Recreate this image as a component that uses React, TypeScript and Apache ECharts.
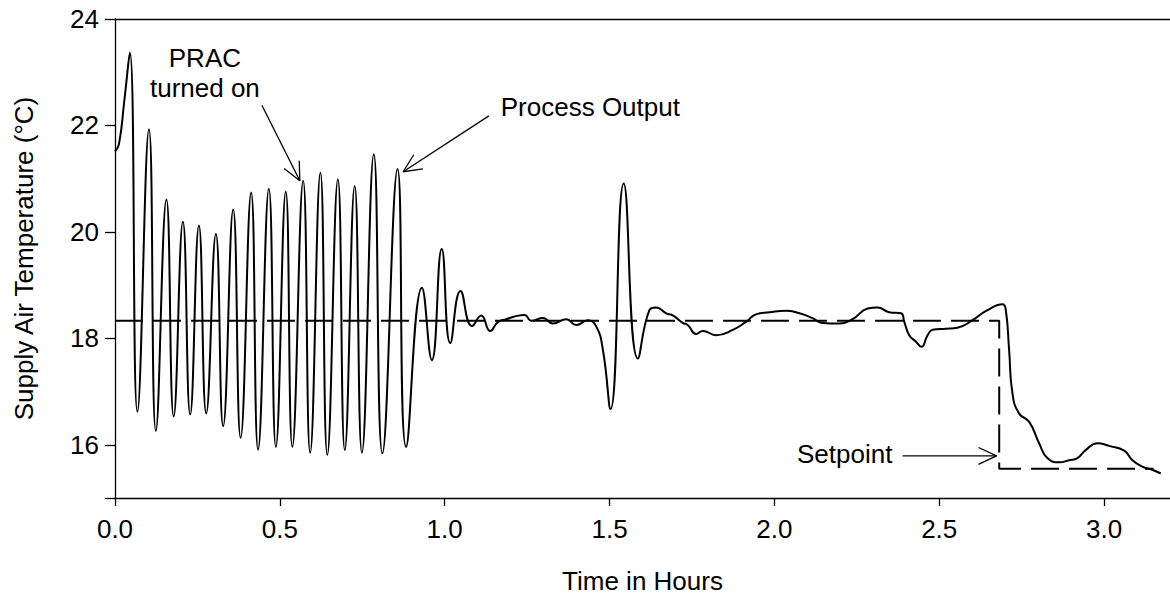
import React, { useEffect, useRef } from "react";
import * as echarts from "echarts";

const FONT = '"Liberation Sans", Arial, Helvetica, sans-serif';
const FS = 26;

// Process output (supply air temperature) readings
const timeHours = [
  0.0, 0.012, 0.028, 0.045, 0.068, 0.103, 0.124, 0.156, 0.178, 0.206, 0.228, 0.2545, 0.2767,
  0.306, 0.328, 0.3585, 0.381, 0.413, 0.434, 0.4667, 0.488, 0.518, 0.538, 0.5707, 0.592, 0.623,
  0.644, 0.676, 0.697, 0.727, 0.749, 0.785, 0.811, 0.857, 0.883, 0.931, 0.961, 0.991, 1.017,
  1.048, 1.083, 1.111, 1.138, 1.162, 1.187, 1.212, 1.242, 1.263, 1.298, 1.328, 1.369, 1.399,
  1.434, 1.46, 1.48, 1.503, 1.543, 1.586, 1.621, 1.641, 1.672, 1.692, 1.722, 1.737, 1.763,
  1.783, 1.823, 1.874, 1.914, 1.944, 1.985, 2.035, 2.076, 2.116, 2.146, 2.197, 2.237, 2.283,
  2.313, 2.348, 2.384, 2.394, 2.409, 2.429, 2.446, 2.465, 2.48, 2.52, 2.555, 2.601, 2.641,
  2.692, 2.702, 2.712, 2.722, 2.742, 2.773, 2.803, 2.828, 2.864, 2.894, 2.919, 2.944, 2.98,
  3.015, 3.061, 3.086, 3.116, 3.146, 3.172,
];
const processOutput = [
  21.51, 21.65, 22.45, 23.37, 16.62, 21.93, 16.26, 20.61, 16.53, 20.19, 16.57, 20.12, 16.59,
  19.96, 16.35, 20.42, 16.13, 20.74, 15.91, 20.81, 15.96, 20.76, 15.96, 20.96, 15.85, 21.11,
  15.81, 20.99, 15.9, 20.86, 15.85, 21.46, 15.84, 21.18, 15.96, 18.95, 17.59, 19.68, 17.91,
  18.89, 18.23, 18.43, 18.14, 18.31, 18.36, 18.41, 18.44, 18.33, 18.38, 18.28, 18.36, 18.25,
  18.34, 18.22, 17.78, 16.67, 20.91, 17.62, 18.53, 18.58, 18.47, 18.43, 18.29, 18.25, 18.08,
  18.14, 18.06, 18.16, 18.31, 18.45, 18.49, 18.52, 18.47, 18.38, 18.29, 18.28, 18.36, 18.56,
  18.58, 18.49, 18.47, 18.31, 18.06, 17.94, 17.84, 18.06, 18.16, 18.18, 18.2, 18.34, 18.51,
  18.64, 18.53, 17.78, 16.97, 16.59, 16.43, 16.03, 15.75, 15.67, 15.71, 15.75, 15.9, 16.03,
  15.98, 15.89, 15.71, 15.59, 15.53, 15.46,
];

// Setpoint step
const setpointTime = [0, 2.682, 2.682, 3.15];
const setpointTemp = [18.33, 18.33, 15.55, 15.55];

// Axis ticks / labels
const xTickValues = [0, 0.5, 1.0, 1.5, 2.0, 2.5, 3.0];
const yTickValues = [15, 16, 18, 20, 22, 24];
const yLabelValues = [16, 18, 20, 22, 24];

// Annotations (data coordinates)
const annotationTexts = [
  { text: "PRAC", at: [0.2727, 23.26], align: "center" },
  { text: "turned on", at: [0.2727, 22.7], align: "center" },
  { text: "Process Output", at: [1.17, 22.35], align: "left" },
  { text: "Setpoint", at: [2.358, 15.83], align: "right" },
];
const annotationArrows = [
  { from: [0.4455, 22.38], to: [0.5606, 20.96] },
  { from: [1.134, 22.18], to: [0.874, 21.13] },
  { from: [2.389, 15.79], to: [2.674, 15.79] },
];

export default function App() {
  const ref = useRef<HTMLDivElement>(null);

  useEffect(() => {
    const el = ref.current!;
    const chart = echarts.init(el, null, { renderer: "svg" });
    const axisLineStyle = { color: "#000", width: 1.3 };
    const option: any = {
      animation: false,
      backgroundColor: "#fff",
      grid: { left: 115, right: 0, top: 19, bottom: 105, containLabel: false },
      xAxis: [
        {
          type: "value",
          position: "bottom",
          min: 0,
          max: 3.2,
          axisLine: { show: true, lineStyle: axisLineStyle },
          axisTick: { show: true, length: 8, customValues: xTickValues, lineStyle: axisLineStyle },
          axisLabel: {
            customValues: xTickValues,
            formatter: (v: number) => v.toFixed(1),
            color: "#000",
            fontSize: FS,
            fontFamily: FONT,
            margin: 18,
          },
          splitLine: { show: false },
          name: "Time in Hours",
          nameLocation: "middle",
          nameGap: 70,
          nameTextStyle: { color: "#000", fontSize: FS, fontFamily: FONT },
        },
        {
          type: "value",
          position: "top",
          min: 0,
          max: 3.2,
          axisLine: { show: true, lineStyle: axisLineStyle },
          axisTick: { show: false },
          axisLabel: { show: false },
          splitLine: { show: false },
        },
      ],
      yAxis: {
        type: "value",
        min: 15,
        max: 24,
        axisLine: { show: true, lineStyle: axisLineStyle },
        axisTick: { show: true, length: 10, customValues: yTickValues, lineStyle: axisLineStyle },
        axisLabel: {
          customValues: yLabelValues,
          color: "#000",
          fontSize: FS,
          fontFamily: FONT,
          margin: 16,
        },
        splitLine: { show: false },
        name: "Supply Air Temperature (°C)",
        nameLocation: "middle",
        nameGap: 78,
        nameTextStyle: { color: "#000", fontSize: FS, fontFamily: FONT },
      },
      series: [
        {
          name: "Setpoint",
          type: "line",
          data: setpointTime.map((t, i) => [t, setpointTemp[i]]),
          symbol: "none",
          lineStyle: { color: "#000", width: 2, type: [28, 10] },
          z: 2,
        },
        {
          name: "Process Output",
          type: "line",
          data: timeHours.map((t, i) => [t, processOutput[i]]),
          symbol: "none",
          smooth: 0.5,
          lineStyle: { color: "#000", width: 2 },
          z: 3,
        },
      ],
    };
    chart.setOption(option);

    const px = (p: number[]) =>
      chart.convertToPixel({ xAxisIndex: 0, yAxisIndex: 0 }, p) as number[];
    const elements: any[] = [];
    const stroke = { stroke: "#000", lineWidth: 1.3 };
    const headLen = 20;
    const headAng = (25 * Math.PI) / 180;
    annotationArrows.forEach((a) => {
      const s = px(a.from);
      const e = px(a.to);
      const ang = Math.atan2(e[1] - s[1], e[0] - s[0]);
      elements.push({
        type: "line",
        shape: { x1: s[0], y1: s[1], x2: e[0], y2: e[1] },
        style: stroke,
        z: 10,
      });
      [-1, 1].forEach((sg) => {
        const b = ang + Math.PI + sg * headAng;
        elements.push({
          type: "line",
          shape: { x1: e[0], y1: e[1], x2: e[0] + headLen * Math.cos(b), y2: e[1] + headLen * Math.sin(b) },
          style: stroke,
          z: 10,
        });
      });
    });
    annotationTexts.forEach((t) => {
      const p = px(t.at);
      elements.push({
        type: "text",
        x: p[0],
        y: p[1],
        style: {
          text: t.text,
          fill: "#000",
          fontSize: FS,
          fontFamily: FONT,
          align: t.align,
          verticalAlign: "middle",
        },
        z: 10,
      });
    });
    chart.setOption({ graphic: elements });

    return () => chart.dispose();
  }, []);

  return (
    <div
      ref={ref}
      style={{ position: "absolute", left: 0, top: 0, width: 1170, height: 603, background: "#fff" }}
    />
  );
}
